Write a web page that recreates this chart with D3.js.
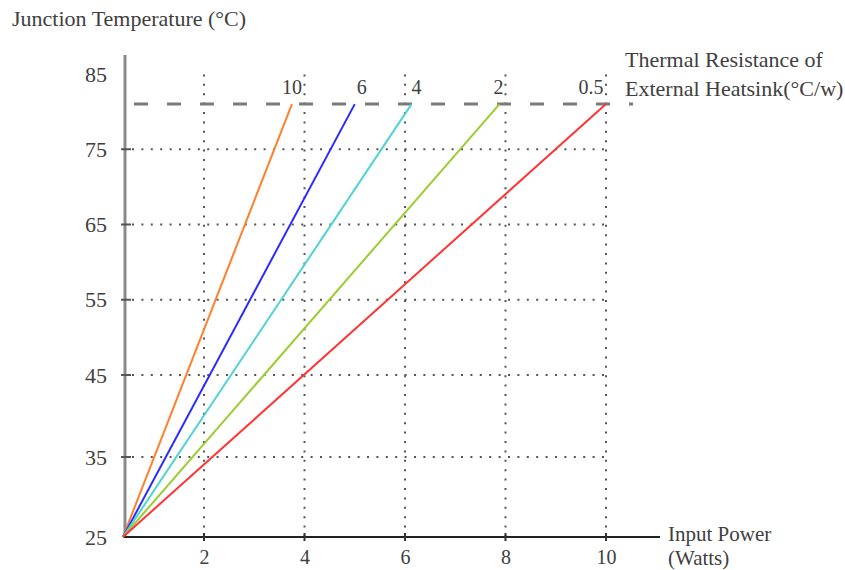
<!DOCTYPE html>
<html>
<head>
<meta charset="utf-8">
<script src="https://cdn.jsdelivr.net/npm/d3@7"></script>
<style>
  body { margin: 0; background: #fff; }
  text { font-family: "Liberation Serif", "Times New Roman", serif; fill: #404040; }
</style>
</head>
<body>
<div id="chart"></div>
<script>
// data
const resistances = ["10", "6", "4", "2", "0.5"];
const endPower = [3.75, 5.0, 6.13, 7.88, 10];
const startPower = 0;
const startTemp = 25;
const limitTemp = 81;
const xTicks = [2, 4, 6, 8, 10];
const yTicks = [25, 35, 45, 55, 65, 75, 85];

// styles
const lineColors = ["#ff7f2a", "#2b2bff", "#4fd3d3", "#9acd32", "#ff3434"];
const labelDx = [0, 7, 5, -1, -15];

window.onload = () => {
  drawChart();
};

function drawChart() {
  const width = 845, height = 570;

  const svg = d3.select("#chart")
    .append("svg")
    .attr("width", width)
    .attr("height", height);

  // the picture's axes are not quite even, so the scales have break points
  const x = d3.scaleLinear()
    .domain([0, 2, 10])
    .range([123, 204, 606]);

  const y = d3.scaleLinear()
    .domain([25, 35, 45, 85])
    .range([537, 457, 375, 74]);

  const gridTop = 67;
  const dots = "2,7.4";

  // vertical dotted grid
  svg.append("g")
    .selectAll("line")
    .data(xTicks)
    .join("line")
    .attr("x1", d => x(d))
    .attr("x2", d => x(d))
    .attr("y1", y(25))
    .attr("y2", gridTop)
    .attr("stroke", "#555")
    .attr("stroke-width", 2)
    .attr("stroke-dasharray", dots);

  // horizontal dotted grid
  svg.append("g")
    .selectAll("line")
    .data(yTicks.filter(d => d > 25 && d < 85))
    .join("line")
    .attr("x1", x(0) + 9)
    .attr("x2", x(10))
    .attr("y1", d => y(d))
    .attr("y2", d => y(d))
    .attr("stroke", "#555")
    .attr("stroke-width", 2)
    .attr("stroke-dasharray", dots);

  // y axis
  const yAxis = svg.append("g")
    .attr("transform", `translate(${x(0) + 2},0)`)
    .call(d3.axisLeft(y).tickValues(yTicks).tickSize(0).tickPadding(18).tickFormat(d => d));
  yAxis.attr("font-family", "Liberation Serif, serif");
  yAxis.select(".domain").remove();
  yAxis.selectAll("text")
    .attr("font-size", 22)
    .attr("fill", "#404040");

  svg.append("line")
    .attr("x1", x(0) + 2)
    .attr("x2", x(0) + 2)
    .attr("y1", y(25))
    .attr("y2", 55)
    .attr("stroke", "#8a8a8a")
    .attr("stroke-width", 3);

  svg.append("g")
    .selectAll("line")
    .data(yTicks.filter(d => d > 25 && d < 85))
    .join("line")
    .attr("x1", x(0) - 2)
    .attr("x2", x(0) + 8)
    .attr("y1", d => y(d))
    .attr("y2", d => y(d))
    .attr("stroke", "#555")
    .attr("stroke-width", 2);

  // x axis
  const xAxis = svg.append("g")
    .attr("transform", `translate(0,${y(25)})`)
    .call(d3.axisBottom(x).tickValues(xTicks).tickSize(0).tickPadding(13));
  xAxis.attr("font-family", "Liberation Serif, serif");
  xAxis.select(".domain").remove();
  xAxis.selectAll("text")
    .attr("font-size", 20)
    .attr("fill", "#404040");

  svg.append("line")
    .attr("x1", x(0))
    .attr("x2", 660)
    .attr("y1", y(25))
    .attr("y2", y(25))
    .attr("stroke", "#222")
    .attr("stroke-width", 1.8);

  svg.append("g")
    .selectAll("line")
    .data(xTicks)
    .join("line")
    .attr("x1", d => x(d))
    .attr("x2", d => x(d))
    .attr("y1", y(25) - 4)
    .attr("y2", y(25) + 4)
    .attr("stroke", "#333")
    .attr("stroke-width", 2);

  // dashed limit line
  svg.append("line")
    .attr("x1", 134)
    .attr("x2", 633)
    .attr("y1", y(limitTemp))
    .attr("y2", y(limitTemp))
    .attr("stroke", "#7a7a7a")
    .attr("stroke-width", 3)
    .attr("stroke-dasharray", "14,19");

  // series lines
  svg.append("g")
    .selectAll("line")
    .data(resistances)
    .join("line")
    .attr("x1", x(startPower))
    .attr("y1", y(startTemp))
    .attr("x2", (d, i) => x(endPower[i]))
    .attr("y2", y(limitTemp))
    .attr("stroke", (d, i) => lineColors[i])
    .attr("stroke-width", 2);

  svg.append("g")
    .selectAll("text")
    .data(resistances)
    .join("text")
    .attr("x", (d, i) => x(endPower[i]) + labelDx[i])
    .attr("y", y(limitTemp) - 10)
    .attr("text-anchor", "middle")
    .attr("font-size", 20)
    .text(d => d);

  // titles
  svg.append("text")
    .attr("x", 12)
    .attr("y", 26)
    .attr("font-size", 22)
    .text("Junction Temperature (°C)");

  svg.append("text")
    .attr("x", 625)
    .attr("y", 67)
    .attr("font-size", 22)
    .text("Thermal Resistance of");

  svg.append("text")
    .attr("x", 625)
    .attr("y", 96)
    .attr("font-size", 22)
    .text("External Heatsink(°C/w)");

  svg.append("text")
    .attr("x", 668)
    .attr("y", 541)
    .attr("font-size", 21)
    .text("Input Power");

  svg.append("text")
    .attr("x", 668)
    .attr("y", 565)
    .attr("font-size", 21)
    .text("(Watts)");
}
</script>
</body>
</html>
